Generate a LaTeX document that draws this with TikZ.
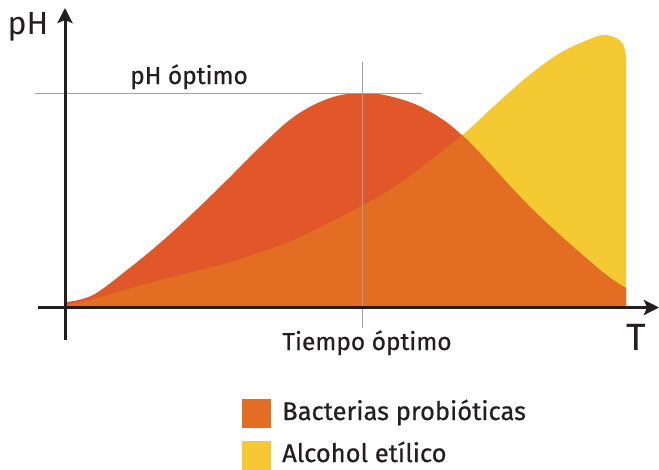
\documentclass[tikz,border=0pt]{standalone}
\usepackage{fontspec}
\setmainfont{Fira Sans}
\newfontfamily\labelfont{Fira Sans}[FakeBold=0.6]
\usetikzlibrary{arrows.meta}

\definecolor{bactred}{HTML}{E2572A}
\definecolor{bactorange}{HTML}{E46D24}
\definecolor{alcyellow}{HTML}{F4C932}
\definecolor{ink}{HTML}{231F20}
\definecolor{guidegray}{HTML}{A0A0A0}

\newcommand{\bacteriacurve}{plot[smooth,tension=0.6] coordinates {(67,302) (93,295) (127,270) (160,243) (193,213) (227,180) (260,147) (295,116) (330,98) (362,93) (393,97) (427,110) (465,138) (533,210) (600,270) (626,288)} -- (626,306) -- (67,306) -- cycle}
\newcommand{\alcoholcurve}{plot[smooth,tension=0.6] coordinates {(67,304) (93,299) (160,280) (227,263) (293,240) (360,207) (400,183) (460,137) (493,107) (527,77) (560,53) (590,39) (604,35) (616,38) (623,44) (626,56)} -- (626,306) -- (67,306) -- cycle}

\tikzset{
  axis/.style={ink, line width=3pt, -{Stealth[length=15pt,width=15pt,inset=3pt]}},
  guide/.style={guidegray, line width=1pt},
  lbl/.style={text=ink, inner sep=0pt, anchor=base},
  swatch/.style={minimum width=29pt, minimum height=29pt, inner sep=0pt, anchor=north west}
}

\begin{document}
\begin{tikzpicture}[x=1pt,y=-1pt]
\useasboundingbox (0,0) rectangle (659,469);

% areas
\fill[alcyellow] \alcoholcurve;
\fill[bactred] \bacteriacurve;
\begin{scope}
  \clip \alcoholcurve;
  \fill[bactorange] \bacteriacurve;
\end{scope}

% optimum guides
\coordinate (phleft) at (35,93);
\coordinate (phright) at (422,93);
\coordinate (ttop) at (362,62);
\coordinate (tbottom) at (362,328);
\draw[guide] (phleft) -- (phright);
\draw[guide] (ttop) -- (tbottom);

% axes
\coordinate (yfoot) at (65,340);
\coordinate (ytop) at (65,8);
\coordinate (xleft) at (38,307.5);
\coordinate (xright) at (659,307.5);
\draw[axis] (yfoot) -- (ytop);
\draw[axis] (xleft) -- (xright);

% labels
\node[lbl, font=\fontsize{32}{32}\selectfont] (phlabel) at (28,34) {pH};
\node[lbl, font=\fontsize{38}{38}\selectfont] (tlabel) at (636,350) {T};
\node[lbl, font=\labelfont\fontsize{24.5}{24.5}\selectfont] (phopt) at (189,84) {pH óptimo};
\node[lbl, font=\labelfont\fontsize{24.5}{24.5}\selectfont] (topt) at (367,350) {Tiempo óptimo};

% legend
\node[swatch, fill=bactorange] (bactkey) at (242,399) {};
\node[swatch, fill=alcyellow] (alckey) at (242,441) {};
\node[lbl, anchor=base west, font=\labelfont\fontsize{25.5}{25.5}\selectfont] (bacttext) at (282,420) {Bacterias probióticas};
\node[lbl, anchor=base west, font=\labelfont\fontsize{25.5}{25.5}\selectfont] (alctext) at (282,462) {Alcohol etílico};
\end{tikzpicture}
\end{document}
